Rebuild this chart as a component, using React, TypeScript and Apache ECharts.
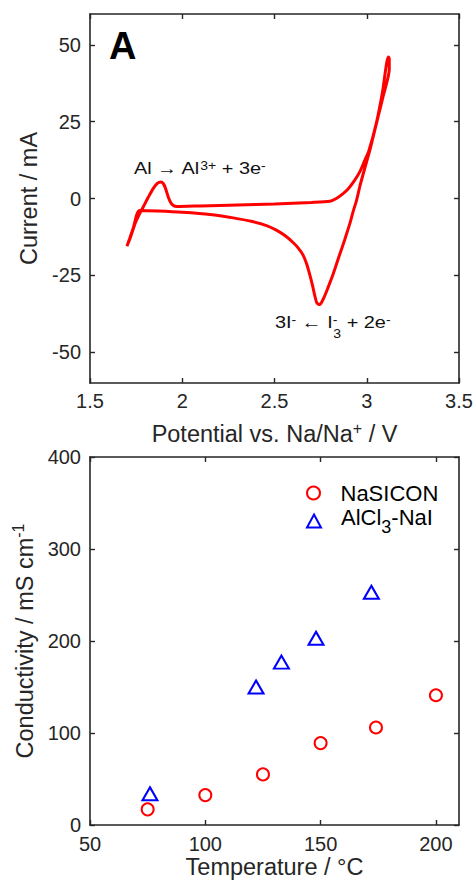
import React, { useEffect, useRef } from 'react';
import * as echarts from 'echarts';

// ---- Panel A: cyclic voltammogram (potential in V, current in mA) ----
const cvPotential = [
  1.70, 1.72, 1.745, 1.77, 1.789, 1.815, 1.843, 1.865, 1.883, 1.898, 1.91, 1.925, 1.94, 1.955, 1.97,
  2.1, 2.3, 2.5, 2.7, 2.80, 2.835, 2.87, 2.90, 2.935, 2.965, 2.99, 3.01, 3.05, 3.085, 3.117,
  3.122, 3.122, 3.09, 3.05, 3.018, 2.99, 2.965, 2.945, 2.925, 2.909, 2.88, 2.85, 2.819, 2.79, 2.765,
  2.745, 2.73, 2.718, 2.705, 2.69, 2.674, 2.655, 2.63, 2.602, 2.56, 2.51, 2.457, 2.38, 2.276, 2.15,
  2.0, 1.87, 1.77, 1.755, 1.735, 1.715, 1.70,
];
const cvCurrent = [
  -15.5, -12.5, -8.0, -4.8, -2.7, 0.3, 3.3, 4.9, 5.4, 4.8, 3.2, 0.3, -1.6, -2.4, -2.6,
  -2.4, -2.1, -1.8, -1.3, -0.9, 0.0, 1.5, 3.2, 6.0, 9.0, 12.5, 15.2, 24.0, 34.5, 46.0,
  45.5, 42.0, 33.5, 23.8, 16.0, 10.0, 4.5, -0.5, -4.5, -8.0, -13.5, -18.8, -24.4, -29.0, -32.6,
  -34.5, -34.0, -31.5, -28.0, -24.5, -21.2, -18.4, -16.2, -14.4, -12.2, -10.3, -8.8, -7.5, -6.3, -5.2,
  -4.5, -4.1, -3.9, -5.0, -9.5, -13.0, -15.5,
];
const cvYTicks = [-50, -25, 0, 25, 50];

// ---- Panel B: conductivity vs temperature ----
const nasiconTemperature = [75, 100, 125, 150, 174, 200];
const nasiconConductivity = [17, 32.5, 55, 89, 106, 141];
const alcl3TemperatureNaI = [76, 122, 133, 148, 172];
const alcl3ConductivityNaI = [34, 150, 177, 203, 253];
const condXTicks = [50, 100, 150, 200];
const condYTicks = [0, 100, 200, 300, 400];
const seriesNames = ['NaSICON', 'AlCl3-NaI'];

const FONT = '"Liberation Sans", Arial, Helvetica, sans-serif';
const AX = '#262626';
const TITLE_SIZE = 23.5;

function pairs(xs: number[], ys: number[]) {
  return xs.map((x, i) => [x, ys[i]]);
}

const tickStyle = { color: AX, width: 1.4 };

function boxAxis(extra: any, labels: boolean) {
  return {
    type: 'value',
    splitLine: { show: false },
    axisLine: { show: true, onZero: false, lineStyle: { color: AX, width: 1.6 } },
    axisTick: { show: true, inside: true, length: 5, lineStyle: tickStyle },
    axisLabel: { show: labels, fontFamily: FONT, fontSize: 20, color: AX, margin: 8 },
    ...extra,
  };
}

const legendRich = {
  n: { fontFamily: FONT, fontSize: 22, color: '#000', lineHeight: 22, verticalAlign: 'top' },
  sub: { fontFamily: FONT, fontSize: 18, color: '#000', lineHeight: 30, verticalAlign: 'bottom' },
};

function legendFor(name: string, top: number) {
  return {
    orient: 'vertical',
    left: 306,
    top,
    padding: 0,
    itemWidth: 14,
    itemHeight: 13,
    data: [name],
    formatter: (nm: string) => (nm === 'AlCl3-NaI' ? '{n|AlCl}{sub|3}{n|-NaI}' : '{n|' + nm + '}'),
    textStyle: { padding: [0, 0, 0, 15], rich: legendRich },
  };
}

export default function App() {
  const ref = useRef<HTMLDivElement>(null);

  useEffect(() => {
    const chart = echarts.init(ref.current!, null, { renderer: 'svg' });

    const nameRich = {
      n: { fontFamily: FONT, fontSize: TITLE_SIZE, color: AX, lineHeight: 28 },
      sup: { fontFamily: FONT, fontSize: 16, color: AX, lineHeight: 15, verticalAlign: 'top' },
    };

    const annRich = {
      n: { fontFamily: FONT, fontSize: 17, fill: '#111', lineHeight: 24, verticalAlign: 'top' },
      sup: { fontFamily: FONT, fontSize: 12, fill: '#111', lineHeight: 13, verticalAlign: 'top' },
      supz: { fontFamily: FONT, fontSize: 12, fill: '#111', lineHeight: 13, verticalAlign: 'top', width: 0.5 },
      sub: { fontFamily: FONT, fontSize: 12, fill: '#111', lineHeight: 26, verticalAlign: 'bottom' },
    };

    const option: any = {
      animation: false,
      backgroundColor: '#ffffff',
      grid: [
        { left: 90, top: 14, width: 369, height: 369 },
        { left: 90, top: 457, width: 369, height: 368 },
      ],
      xAxis: [
        boxAxis({
          gridIndex: 0, position: 'bottom', min: 1.5, max: 3.5, interval: 0.5,
          name: '{n|Potential vs. Na/Na}{sup|+}{n| / V}',
          nameLocation: 'middle', nameGap: 37,
          nameTextStyle: { rich: nameRich },
        }, true),
        boxAxis({ gridIndex: 0, position: 'top', min: 1.5, max: 3.5, interval: 0.5 }, false),
        boxAxis({
          gridIndex: 1, position: 'bottom', min: 50, max: 210,
          axisLabel: { show: true, fontFamily: FONT, fontSize: 20, color: AX, margin: 9, customValues: condXTicks },
          axisTick: { show: true, inside: true, length: 5, lineStyle: tickStyle, customValues: condXTicks },
          name: 'Temperature / °C',
          nameLocation: 'middle', nameGap: 28,
          nameTextStyle: { fontFamily: FONT, fontSize: TITLE_SIZE, color: AX },
        }, true),
        boxAxis({
          gridIndex: 1, position: 'top', min: 50, max: 210,
          axisTick: { show: true, inside: true, length: 5, lineStyle: tickStyle, customValues: condXTicks },
        }, false),
      ],
      yAxis: [
        boxAxis({
          gridIndex: 0, position: 'left', min: -60, max: 60,
          axisLabel: { show: true, fontFamily: FONT, fontSize: 20, color: AX, margin: 9, customValues: cvYTicks },
          axisTick: { show: true, inside: true, length: 5, lineStyle: tickStyle, customValues: cvYTicks },
          name: 'Current / mA',
          nameLocation: 'middle', nameGap: 47,
          nameTextStyle: { fontFamily: FONT, fontSize: TITLE_SIZE, color: AX },
        }, true),
        boxAxis({
          gridIndex: 0, position: 'right', min: -60, max: 60,
          axisTick: { show: true, inside: true, length: 5, lineStyle: tickStyle, customValues: cvYTicks },
        }, false),
        boxAxis({
          gridIndex: 1, position: 'left', min: 0, max: 400, interval: 100,
          axisLabel: { show: true, fontFamily: FONT, fontSize: 20, color: AX, margin: 9, customValues: condYTicks },
          name: '{n|Conductivity / mS cm}{sup|-1}',
          nameLocation: 'middle', nameGap: 50,
          nameTextStyle: { rich: nameRich },
        }, true),
        boxAxis({ gridIndex: 1, position: 'right', min: 0, max: 400, interval: 100 }, false),
      ],
      legend: [legendFor(seriesNames[0], 482), legendFor(seriesNames[1], 506)],
      series: [
        {
          type: 'line',
          xAxisIndex: 0,
          yAxisIndex: 0,
          data: pairs(cvPotential, cvCurrent),
          showSymbol: false,
          smooth: 0.25,
          lineStyle: { color: '#ff0000', width: 3 },
          silent: true,
        },
        {
          name: seriesNames[0],
          type: 'scatter',
          xAxisIndex: 2,
          yAxisIndex: 2,
          data: pairs(nasiconTemperature, nasiconConductivity),
          symbol: 'circle',
          symbolSize: 12,
          itemStyle: { color: 'rgba(255,255,255,0)', borderColor: '#ff0000', borderWidth: 2, opacity: 1 },
        },
        {
          name: seriesNames[1],
          type: 'scatter',
          xAxisIndex: 2,
          yAxisIndex: 2,
          data: pairs(alcl3TemperatureNaI, alcl3ConductivityNaI),
          symbol: 'triangle',
          symbolSize: [15, 13],
          itemStyle: { color: 'rgba(255,255,255,0)', borderColor: '#0000ff', borderWidth: 2, opacity: 1 },
        },
      ],
      graphic: [
        {
          type: 'text',
          x: 109,
          y: 46,
          style: {
            text: 'A',
            fontFamily: FONT,
            fontWeight: 'bold',
            fontSize: 38,
            fill: '#000',
            verticalAlign: 'middle',
          },
        },
        {
          type: 'text',
          x: 134,
          y: 160,
          scaleX: 1.17,
          style: { text: '{n|Al → Al}{sup|3+}{n| + 3e}{sup|-}', rich: annRich },
        },
        {
          type: 'text',
          x: 275,
          y: 314,
          scaleX: 1.17,
          style: { text: '{n|3I}{sup|-}{n| ← I}{supz|-}{sub|3}{n| + 2e}{sup|-}', rich: annRich },
        },
      ],
    };

    chart.setOption(option);
    return () => chart.dispose();
  }, []);

  return (
    <div
      ref={ref}
      style={{ position: 'absolute', left: 0, top: 0, width: 476, height: 882, background: '#fff' }}
    />
  );
}
